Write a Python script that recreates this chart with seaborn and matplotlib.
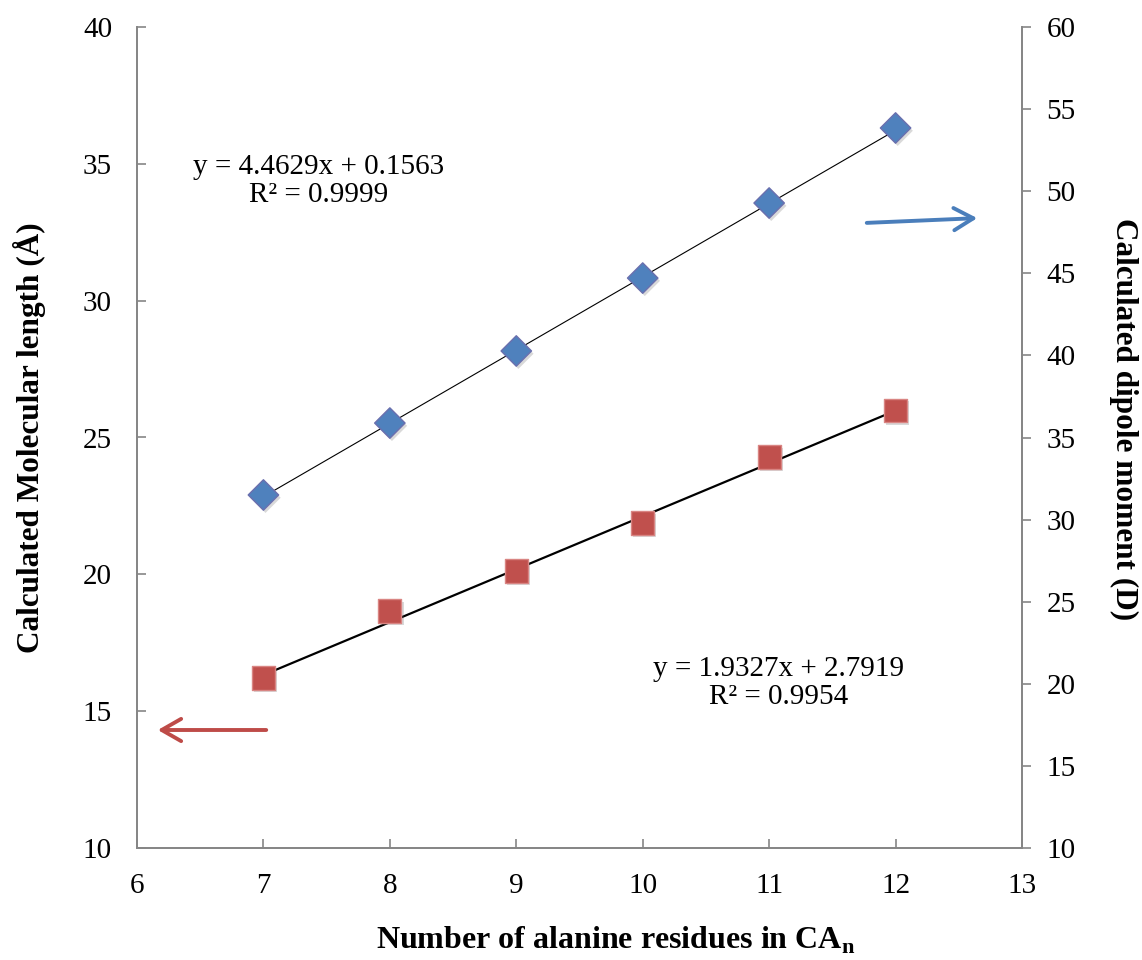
import numpy as np
import pandas as pd
import matplotlib
matplotlib.use("Agg")
import matplotlib.pyplot as plt
import matplotlib.patheffects as pe
import seaborn as sns

# Number of alanine residues in CA_n
residues = [7, 8, 9, 10, 11, 12]
# Calculated molecular length (Å), left axis
mol_length = [16.21, 18.66, 20.12, 21.88, 24.29, 26.00]
# Calculated dipole moment (D), right axis
dipole = [31.50, 35.88, 40.27, 44.71, 49.28, 53.85]

# Linear trendlines: slope, intercept, R²
length_fit = (1.9327, 2.7919, 0.9954)
dipole_fit = (4.4629, 0.1563, 0.9999)

x_ticks = [6, 7, 8, 9, 10, 11, 12, 13]
left_ticks = [10, 15, 20, 25, 30, 35, 40]
right_ticks = [10, 15, 20, 25, 30, 35, 40, 45, 50, 55, 60]

BLUE = "#4F81BD"
RED = "#C0504D"
AXIS_GREY = "#868686"

sns.set_style("white")
plt.rcParams["font.family"] = ["Liberation Serif", "DejaVu Serif"]
plt.rcParams["mathtext.fontset"] = "custom"
plt.rcParams["mathtext.rm"] = "Liberation Serif"
plt.rcParams["mathtext.bf"] = "Liberation Serif:bold"
for key in ("text.color", "axes.labelcolor", "xtick.labelcolor", "ytick.labelcolor"):
    plt.rcParams[key] = "black"

W, H = 1142, 960
fig = plt.figure(figsize=(W / 100, H / 100), dpi=100)
ax = fig.add_axes([137 / W, 1 - 848 / H, (1022 - 137) / W, (848 - 27) / H])
ax2 = ax.twinx()

df = pd.DataFrame({"n": residues, "length": mol_length, "dipole": dipole})
fit_x = np.array([residues[0], residues[-1]], dtype=float)
len_line = pd.DataFrame({"n": fit_x, "y": length_fit[0] * fit_x + length_fit[1]})
dip_line = pd.DataFrame({"n": fit_x, "y": dipole_fit[0] * fit_x + dipole_fit[1]})

shadow = [pe.SimplePatchShadow(offset=(1.5, -2), alpha=0.22, shadow_rgbFace="#555555"), pe.Normal()]

# Molecular length (left axis)
sns.lineplot(data=len_line, x="n", y="y", ax=ax, color="black", lw=1.6, zorder=2)
sns.scatterplot(data=df, x="n", y="length", ax=ax, marker="s", s=280,
                color=RED, edgecolor="#D98583", linewidth=1.0, zorder=3)
ax.collections[-1].set_path_effects(shadow)

# Dipole moment (right axis)
sns.lineplot(data=dip_line, x="n", y="y", ax=ax2, color="black", lw=0.8, zorder=2)
sns.scatterplot(data=df, x="n", y="dipole", ax=ax2, marker="D", s=240,
                color=BLUE, edgecolor="#6A6FAE", linewidth=1.0, zorder=3)
ax2.collections[-1].set_path_effects(shadow)

ax.set_xlim(6, 13)
ax.set_ylim(10, 40)
ax2.set_ylim(10, 60)
ax.set_xticks(x_ticks)
ax.set_yticks(left_ticks)
ax2.set_yticks(right_ticks)

for a in (ax, ax2):
    a.grid(False)
    a.spines["top"].set_visible(False)
    for s in ("left", "right", "bottom"):
        a.spines[s].set_color(AXIS_GREY)
        a.spines[s].set_linewidth(1.3)

ax.tick_params(axis="y", direction="in", length=6.5, width=1.2, color=AXIS_GREY,
               labelsize=21, pad=18, left=True, right=False)
ax.tick_params(axis="x", direction="in", length=6.5, width=1.2, color=AXIS_GREY,
               labelsize=21, pad=18, bottom=True)
ax2.tick_params(axis="y", direction="out", length=6.5, width=1.2, color=AXIS_GREY,
                labelsize=21, pad=11, right=True, left=False)

ax.set_xlabel(r"Number of alanine residues in CA$_\mathbf{n}$", fontsize=23, fontweight="bold")
ax.xaxis.set_label_coords(0.541, -0.112)
ax.set_ylabel("Calculated Molecular length (Å)", fontsize=22.5, fontweight="bold")
ax.yaxis.set_label_coords(-0.121, 0.50)
ax2.set_ylabel("Calculated dipole moment (D)", fontsize=22.5, fontweight="bold", rotation=-90)
ax2.yaxis.set_label_coords(1.115, 0.5225)
ax2.yaxis.label.set_va("center")
ax.yaxis.label.set_va("center")
ax.xaxis.label.set_va("center")

# Trendline equations
fig.text(319 / W, 1 - 181 / H,
         f"y = {dipole_fit[0]:.4f}x + {dipole_fit[1]:.4f}\nR² = {dipole_fit[2]:.4f}",
         ha="center", va="center", fontsize=21, linespacing=1.05)
fig.text(779 / W, 1 - 683 / H,
         f"y = {length_fit[0]:.4f}x + {length_fit[1]:.4f}\nR² = {length_fit[2]:.4f}",
         ha="center", va="center", fontsize=21, linespacing=1.05)

# Arrows pointing to each series' axis
ax.annotate("", xy=(980, H - 218), xytext=(864, H - 223), xycoords="figure pixels",
            textcoords="figure pixels",
            arrowprops=dict(arrowstyle="->,head_length=0.7,head_width=0.4",
                            mutation_scale=20, color="#4A7EBB", lw=2.8))
ax.annotate("", xy=(155, H - 730), xytext=(269, H - 730), xycoords="figure pixels",
            textcoords="figure pixels",
            arrowprops=dict(arrowstyle="->,head_length=0.7,head_width=0.4",
                            mutation_scale=20, color="#BE4B48", lw=2.8))

fig.savefig("out.png", dpi=100)
